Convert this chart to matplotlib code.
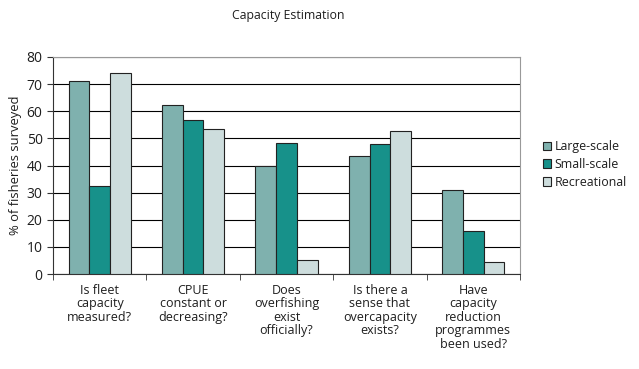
import numpy as np
import matplotlib.pyplot as plt
from matplotlib.ticker import FixedLocator

plt.rcParams['font.family'] = ['Open Sans', 'DejaVu Sans']

# data
categories = ['Is fleet\ncapacity\nmeasured?',
              'CPUE\nconstant or\ndecreasing?',
              'Does\noverfishing\nexist\nofficially?',
              'Is there a\nsense that\novercapacity\nexists?',
              'Have\ncapacity\nreduction\nprogrammes\nbeen used?']
series_names = ['Large-scale', 'Small-scale', 'Recreational']
large_scale = [71.0, 62.2, 39.7, 43.4, 30.9]
small_scale = [32.6, 56.7, 48.2, 47.9, 15.8]
recreational = [74.0, 53.4, 5.0, 52.7, 4.4]
colors = ['#7fb1ae', '#17918a', '#cddddd']
txt = '#1e1e1e'

fig = plt.figure(figsize=(6.39, 3.69), dpi=100)
ax = fig.add_axes([53 / 639, 1 - 274 / 369, (520 - 53) / 639, (274 - 57) / 369])

x = np.arange(len(categories))
w = 0.222
for i, (vals, name) in enumerate(zip([large_scale, small_scale, recreational], series_names)):
    ax.bar(x + (i - 1) * w, vals, width=w, color=colors[i], edgecolor='#222222',
           linewidth=0.8, label=name, zorder=3)

ax.set_xlim(-0.5, len(categories) - 0.5)
ax.set_ylim(0, 80)
ax.set_yticks(range(0, 81, 10))
ax.yaxis.grid(True, color='black', linewidth=0.8, zorder=0)
ax.set_xticks(x)
ax.set_xticklabels(categories, fontsize=9, color=txt, linespacing=1.05, fontweight=500)
ax.tick_params(axis='x', length=0, pad=7)
ax.xaxis.set_minor_locator(FixedLocator(np.arange(-0.5, len(categories), 1.0)))
ax.tick_params(axis='x', which='minor', length=4, direction='out', color='#333333')
ax.tick_params(axis='y', length=4, direction='out', labelsize=10, color='#333333', labelcolor=txt)
for lab in ax.get_yticklabels():
    lab.set_fontweight(500)

for side in ['top', 'right']:
    ax.spines[side].set_color('#999999')
for side in ['left', 'bottom']:
    ax.spines[side].set_color('#333333')

ax.set_ylabel('% of fisheries surveyed', fontsize=9.4, color=txt, fontweight=500, labelpad=3)
fig.text(288 / 639, 1 - 15 / 369, 'Capacity Estimation', ha='center', va='center',
         fontsize=8.8, color=txt, fontweight=500)

leg = ax.legend(loc='center left', bbox_to_anchor=(1.025, 0.505), frameon=False, fontsize=8.9,
                handlelength=0.65, handleheight=0.65, handletextpad=0.3, labelspacing=0.4)
for t in leg.get_texts():
    t.set_color(txt)
    t.set_fontweight(500)

fig.savefig('out.png', dpi=100)
